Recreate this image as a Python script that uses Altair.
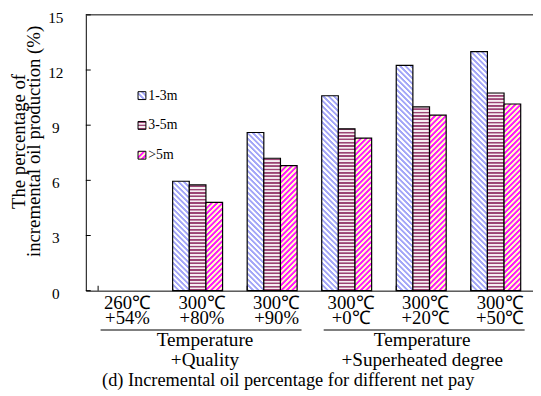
import altair as alt
import pandas as pd

# ---------------- data ----------------
groups = ["260℃\n+54%", "300℃\n+80%", "300℃\n+90%", "300℃\n+0℃", "300℃\n+20℃", "300℃\n+50℃"]
series = ["1-3m", "3-5m", ">5m"]
vals_1_3 = [0, 5.95, 8.6, 10.6, 12.25, 13.0]
vals_3_5 = [0, 5.75, 7.2, 8.8, 10.0, 10.75]
vals_5 = [0, 4.8, 6.8, 8.3, 9.55, 10.15]
y_ticks = [0, 3, 6, 9, 12, 15]
bracket_text = ["Temperature\n+Quality", "Temperature\n+Superheated degree"]
bracket_mid = ["300℃\n+80%", "300℃\n+20℃"]
caption = "(d) Incremental oil percentage for different net pay"
y_title = ["The percentage of", "incremental oil production (%)"]

# ---------------- layout / style ----------------
W, H = 454, 280
YMAX = 15
FONT = "Liberation Serif"
PAD_IN, PAD_OUT = 0.33, 0.165
step = W / (len(groups) - PAD_IN + 2 * PAD_OUT)
bar_w = step * (1 - PAD_IN) / len(series)

styles = {
    "1-3m": dict(kind="back", a="#a3a6f7", b="#ffffff", P=5.5),
    "3-5m": dict(kind="horiz", a="#9b4474", b="#f6eef2", P=3.4),
    ">5m": dict(kind="fwd", a="#ff1aff", b="#ffffc4", P=5.5),
}


def make_stops(L, P, a, b):
    out = []
    n = int(L / P) + 2
    for k in range(n):
        base = k * P
        for off, c in [(0, a), (0.35 * P, a), (0.5 * P, b), (0.85 * P, b)]:
            t = (base + off) / L
            if t > 1:
                break
            out.append(alt.GradientStop(offset=round(t, 5), color=c))
    return out


def make_grad(series_name, w, h):
    st = styles[series_name]
    if st["kind"] == "horiz":
        return alt.LinearGradient(gradient="linear", x1=0, y1=1, x2=0, y2=0,
                                  stops=make_stops(h, st["P"], st["a"], st["b"]))
    d = w * w + h * h
    dx = w * (w + h) / d
    dy = h * (w + h) / d
    L = w + h
    if st["kind"] == "back":
        return alt.LinearGradient(gradient="linear", x1=0, y1=1, x2=dx, y2=1 - dy,
                                  stops=make_stops(L, st["P"], st["a"], st["b"]))
    return alt.LinearGradient(gradient="linear", x1=0, y1=0, x2=dx, y2=dy,
                              stops=make_stops(L, st["P"], st["a"], st["b"]))


rows = []
for i, g in enumerate(groups):
    for s, vals in zip(series, [vals_1_3, vals_3_5, vals_5]):
        rows.append({"id": len(rows), "group": g, "series": s, "value": vals[i]})
df = pd.DataFrame(rows)

xscale = alt.Scale(domain=groups, paddingInner=PAD_IN, paddingOuter=PAD_OUT)
yscale = alt.Scale(domain=[0, YMAX], nice=False, zero=True)

xaxis = alt.Axis(
    title=None, domain=True, domainColor="black", domainWidth=1, ticks=False, tickSize=0,
    grid=False, labelAngle=0, labelFont=FONT, labelFontSize=19, labelLineHeight=15,
    labelPadding=3.5, labelBaseline="top", labelColor="black", labelOffset=4.5,
    labelExpr="split(datum.label, '\\n')",
)
yaxis = alt.Axis(
    values=y_ticks, domain=True, domainColor="black", domainWidth=1, ticks=False, tickSize=0,
    grid=False, labelAlign="center", labelBaseline="middle", labelPadding=31, labelOffset=2.5,
    labelFont=FONT, labelFontSize=15.5, labelColor="black",
    title=y_title, titleFont=FONT, titleFontSize=19, titleFontWeight="normal",
    titleLineHeight=15, titleAngle=270, titleX=-58, titleY=128, titleBaseline="bottom",
    titleAlign="center", titleColor="black",
)


def X(**kw):
    return alt.X("group:N", sort=groups, scale=xscale, axis=xaxis, **kw)


def Y(field="value:Q"):
    return alt.Y(field, scale=yscale, axis=yaxis)


layers = []

# bars, each with its own stripe gradient
for r in rows:
    if r["value"] <= 0:
        continue
    h = r["value"] / YMAX * H
    grad = make_grad(r["series"], bar_w, h)
    layers.append(
        alt.Chart(df)
        .transform_filter(alt.FieldEqualPredicate(field="id", equal=r["id"]))
        .mark_bar(fill=grad, stroke="black", strokeWidth=1.2)
        .encode(
            x=X(),
            xOffset=alt.XOffset("series:N", sort=series,
                                scale=alt.Scale(domain=series, paddingInner=0, paddingOuter=0)),
            y=Y(),
        )
    )

# top border line
ydf = pd.DataFrame({"value": y_ticks})
layers.append(
    alt.Chart(ydf)
    .transform_filter(alt.FieldEqualPredicate(field="value", equal=YMAX))
    .mark_rule(color="black", strokeWidth=1)
    .encode(y=Y())
)
# inward y ticks
layers.append(
    alt.Chart(ydf)
    .mark_tick(orient="horizontal", size=5, thickness=1, color="black", opacity=1)
    .encode(y=Y(), x=alt.value(2.5))
)
# inward x ticks at band edges
gdf = pd.DataFrame({"group": groups})
layers.append(
    alt.Chart(gdf)
    .mark_tick(orient="vertical", size=5, thickness=1, color="black", opacity=1)
    .encode(x=X(bandPosition=0), y=alt.value(H - 2.5))
)

# group brackets and texts
bdf = pd.DataFrame({"group": bracket_mid, "text": bracket_text})
for k, (dxl, dxt) in enumerate([(3.5, 7.5), (3, 1)]):
    sub = alt.Chart(bdf).transform_filter(
        alt.FieldEqualPredicate(field="group", equal=bracket_mid[k]))
    layers.append(
        sub.mark_tick(orient="horizontal", size=204, thickness=1, color="black",
                      opacity=1, xOffset=dxl)
        .encode(x=X(), y=alt.value(H + 40))
    )
    layers.append(
        sub.mark_text(font=FONT, fontSize=19.5, lineHeight=20, baseline="alphabetic",
                      align="center", color="black", dx=dxt, lineBreak="\n")
        .encode(x=X(), y=alt.value(H + 56.5), text="text:N")
    )

# caption
layers.append(
    alt.Chart(pd.DataFrame({"text": [caption]}))
    .mark_text(font=FONT, fontSize=18.6, baseline="alphabetic", align="center", color="black")
    .encode(x=alt.value(205.5), y=alt.value(H + 96.5), text="text:N")
)

# custom legend
ldf = pd.DataFrame({"series": series})
for j, s in enumerate(series):
    ly = 82 + 30.25 * j
    sub = alt.Chart(ldf).transform_filter(alt.FieldEqualPredicate(field="series", equal=s))
    layers.append(
        sub.mark_square(size=64, fill=make_grad(s, 8, 8), stroke="black", strokeWidth=1,
                        opacity=1, filled=True)
        .encode(x=alt.value(57), y=alt.value(ly))
    )
    layers.append(
        sub.mark_text(font=FONT, fontSize=14, align="left", baseline="middle", color="black")
        .encode(x=alt.value(63.5), y=alt.value(ly), text="series:N")
    )

chart = (
    alt.layer(*layers)
    .properties(width=W, height=H, autosize="none",
                padding={"left": 79, "top": 4, "right": 0, "bottom": 104})
    .configure_view(stroke=None)
)

chart.save("out.html", embed_options={"renderer": "svg", "actions": False})
